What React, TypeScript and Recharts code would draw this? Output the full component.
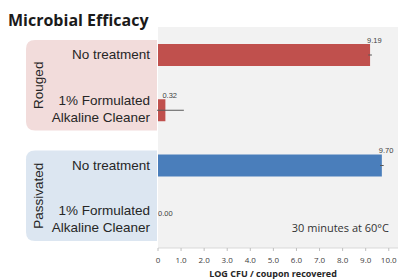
import React from 'react';
import { BarChart, Bar, XAxis, YAxis, CartesianGrid, Cell, ErrorBar, LabelList } from 'recharts';

const categoryKeys = ['rouged-none', 'rouged-alk', 'passivated-none', 'passivated-alk'];
const groupNames = ['Rouged', 'Rouged', 'Passivated', 'Passivated'];
const treatmentLines = [
  ['No treatment'],
  ['1% Formulated', 'Alkaline Cleaner'],
  ['No treatment'],
  ['1% Formulated', 'Alkaline Cleaner'],
];
const logValues = [9.19, 0.32, 9.7, 0.0];
const errorValues = [0.08, 0.8, 0.08, 0];
const barColors = ['#c0504d', '#c0504d', '#4a7ebb', '#4a7ebb'];
const panelColors: Record<string, string> = { Rouged: '#f2dcdb', Passivated: '#dce6f1' };
const xTicks = [0, 1, 2, 3, 4, 5, 6, 7, 8, 9, 10];

const W = 398;
const H = 280;
const TOP = 27;
const AXIS_H = 32;
const Y_AXIS_W = 158;
const BAND = (H - TOP - AXIS_H) / categoryKeys.length;
const PANEL_LEFT = 26;
const PANEL_RIGHT = 157;
const LABEL_RIGHT = 150;
const FONT = '"Liberation Sans", Arial, sans-serif';

const data = categoryKeys.map((k, i) => ({
  key: k,
  group: groupNames[i],
  value: logValues[i],
  err: errorValues[i],
}));

const CategoryTick = (props: any) => {
  const { y, index } = props;
  const lines = treatmentLines[index];
  const group = groupNames[index];
  const isGroupStart = index === 0 || groupNames[index - 1] !== group;
  let panel = null;
  if (isGroupStart) {
    const top = y - BAND / 2 + 13;
    const bottom = top + 2 * BAND - 20;
    const r = 9;
    const d = `M${PANEL_RIGHT},${top} L${PANEL_LEFT + r},${top} Q${PANEL_LEFT},${top} ${PANEL_LEFT},${top + r} L${PANEL_LEFT},${bottom - r} Q${PANEL_LEFT},${bottom} ${PANEL_LEFT + r},${bottom} L${PANEL_RIGHT},${bottom} Z`;
    const cy = (top + bottom) / 2;
    panel = (
      <g>
        <path d={d} fill={panelColors[group]} />
        <text
          x={38}
          y={cy}
          transform={`rotate(-90 38 ${cy})`}
          textAnchor="middle"
          dominantBaseline="central"
          fontFamily={FONT}
          fontSize={13.5}
          fill="#262626"
        >
          {group}
        </text>
      </g>
    );
  }
  const offsets = lines.length === 1 ? [0] : [-9.5, 7.5];
  const zeroLabel =
    logValues[index] === 0 ? (
      <text x={Y_AXIS_W} y={y - 4} fontFamily={FONT} fontSize={7.5} fill="#404040" textAnchor="start">
        {logValues[index].toFixed(2)}
      </text>
    ) : null;
  return (
    <g>
      {panel}
      {lines.map((ln: string, i: number) => (
        <text
          key={i}
          x={LABEL_RIGHT}
          y={y + offsets[i]}
          textAnchor="end"
          dominantBaseline="central"
          fontFamily={FONT}
          fontSize={13.5}
          fill="#262626"
        >
          {ln}
        </text>
      ))}
      {zeroLabel}
    </g>
  );
};

const ValueLabel = (props: any) => {
  const { x, y, width, value } = props;
  const v = Number(value);
  if (v === 0) return null;
  const tx = x + width - 3;
  const ty = y - 1.5;
  return (
    <text x={tx} y={ty} fontFamily={FONT} fontSize={7.5} fill="#404040" textAnchor="start">
      {v.toFixed(2)}
    </text>
  );
};

export default function App() {
  return (
    <div style={{ position: 'absolute', left: 0, top: 0, width: W, height: H, background: '#fff' }}>
      <BarChart
        width={W}
        height={H}
        data={data}
        layout="vertical"
        margin={{ top: TOP, right: 0, bottom: 0, left: 0 }}
        barCategoryGap={0}
      >
        <CartesianGrid horizontal={false} vertical={false} fill="#f2f2f2" />
        <XAxis
          type="number"
          domain={[0, 10.4]}
          ticks={xTicks}
          allowDataOverflow
          height={AXIS_H}
          tickFormatter={(v: number) => (v === 0 ? '0' : v.toFixed(1))}
          tick={{ fontSize: 8, fill: '#404040', fontFamily: '"Open Sans", sans-serif' }}
          tickSize={3}
          tickMargin={6}
          axisLine={{ stroke: '#d9d9d9' }}
          tickLine={{ stroke: '#bfbfbf' }}
          label={{
            value: 'LOG CFU / coupon recovered',
            position: 'insideBottom',
            offset: 3,
            dx: -5,
            fontSize: 9,
            fontWeight: 700,
            fill: '#262626',
            fontFamily: '"Open Sans", sans-serif',
          }}
        />
        <YAxis
          type="category"
          dataKey="key"
          width={Y_AXIS_W}
          axisLine={false}
          tickLine={false}
          tick={<CategoryTick />}
          interval={0}
        />
        <Bar dataKey="value" barSize={22} isAnimationActive={false}>
          {data.map((d, i) => (
            <Cell key={d.key} fill={barColors[i]} />
          ))}
          <ErrorBar dataKey="err" direction="x" width={0} stroke="#595959" strokeWidth={1} />
          <LabelList dataKey="value" content={<ValueLabel />} />
        </Bar>
      </BarChart>
      <svg
        width={W}
        height={H}
        style={{ position: 'absolute', left: 0, top: 0, pointerEvents: 'none' }}
      >
        <text x={8} y={26} fontFamily='"Open Sans", sans-serif' fontWeight={700} fontSize={16} fill="#1a1a1a">
          Microbial Efficacy
        </text>
        <text x={389} y={232} textAnchor="end" fontFamily='"Open Sans", sans-serif' fontSize={11} fill="#333">
          30 minutes at 60°C
        </text>
      </svg>
    </div>
  );
}
